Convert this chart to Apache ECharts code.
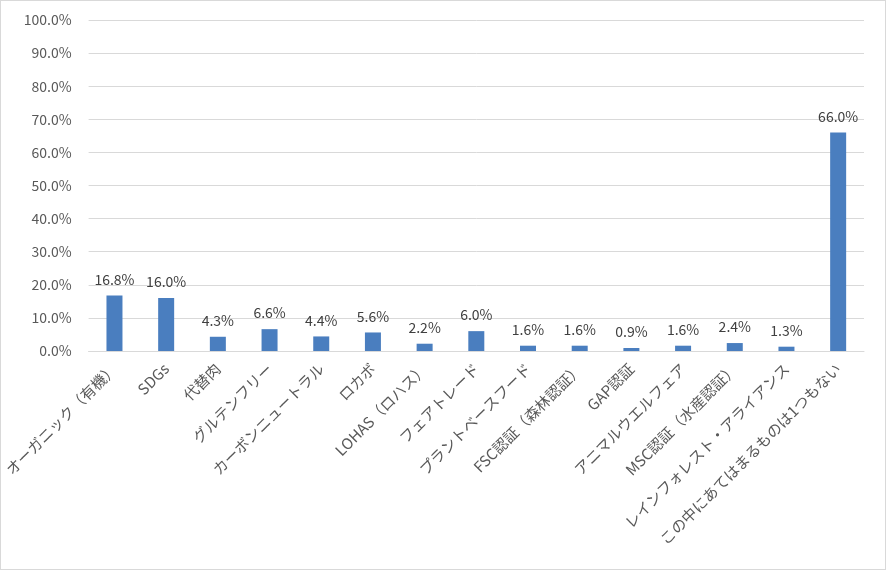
<!DOCTYPE html>
<html>
<head>
<meta charset="utf-8">
<script src="https://cdn.jsdelivr.net/npm/echarts@6/dist/echarts.min.js"></script>
<style>
  html, body { margin: 0; padding: 0; background: #fff; }
  #main { width: 884px; height: 568px; border: 1px solid #d9d9d9; }
</style>
</head>
<body>
<div id="main"></div>
<script>
// カテゴリ
var categories = [
    'オーガニック（有機）', 'SDGs', '代替肉', 'グルテンフリー', 'カーボンニュートラル',
    'ロカボ', 'LOHAS（ロハス）', 'フェアトレード', 'プラントベースフード', 'FSC認証（森林認証）',
    'GAP認証', 'アニマルウエルフェア', 'MSC認証（水産認証）', 'レインフォレスト・アライアンス',
    'この中にあてはまるものは1つもない'
];
// 割合 (%)
var values = [16.8, 16.0, 4.3, 6.6, 4.4, 5.6, 2.2, 6.0, 1.6, 1.6, 0.9, 1.6, 2.4, 1.3, 66.0];

var myChart = echarts.init(document.getElementById('main'));
var font = '"Noto Sans CJK JP", "Noto Sans", sans-serif';

option = {
    animation: false,
    grid: { left: 87, right: 21, top: 19, bottom: 218, containLabel: false },
    xAxis: {
        type: 'category',
        data: categories,
        axisLine: { lineStyle: { color: '#d9d9d9' } },
        axisTick: { show: false },
        axisLabel: {
            interval: 0,
            rotate: 45,
            margin: 15,
            color: '#595959',
            fontSize: 15,
            fontFamily: font
        }
    },
    yAxis: {
        type: 'value',
        min: 0,
        max: 100,
        interval: 10,
        axisLine: { show: false },
        axisTick: { show: false },
        splitLine: { lineStyle: { color: '#d9d9d9' } },
        axisLabel: {
            margin: 17,
            color: '#595959',
            fontSize: 14,
            fontFamily: font,
            formatter: function (v) { return v.toFixed(1) + '%'; }
        }
    },
    series: [{
        type: 'bar',
        data: values,
        barWidth: 16,
        itemStyle: { color: '#4A7EBF' },
        label: {
            show: true,
            position: 'top',
            distance: 9,
            color: '#404040',
            fontSize: 14,
            fontFamily: font,
            formatter: function (p) { return p.value.toFixed(1) + '%'; }
        }
    }]
};
myChart.setOption(option);
</script>
</body>
</html>
